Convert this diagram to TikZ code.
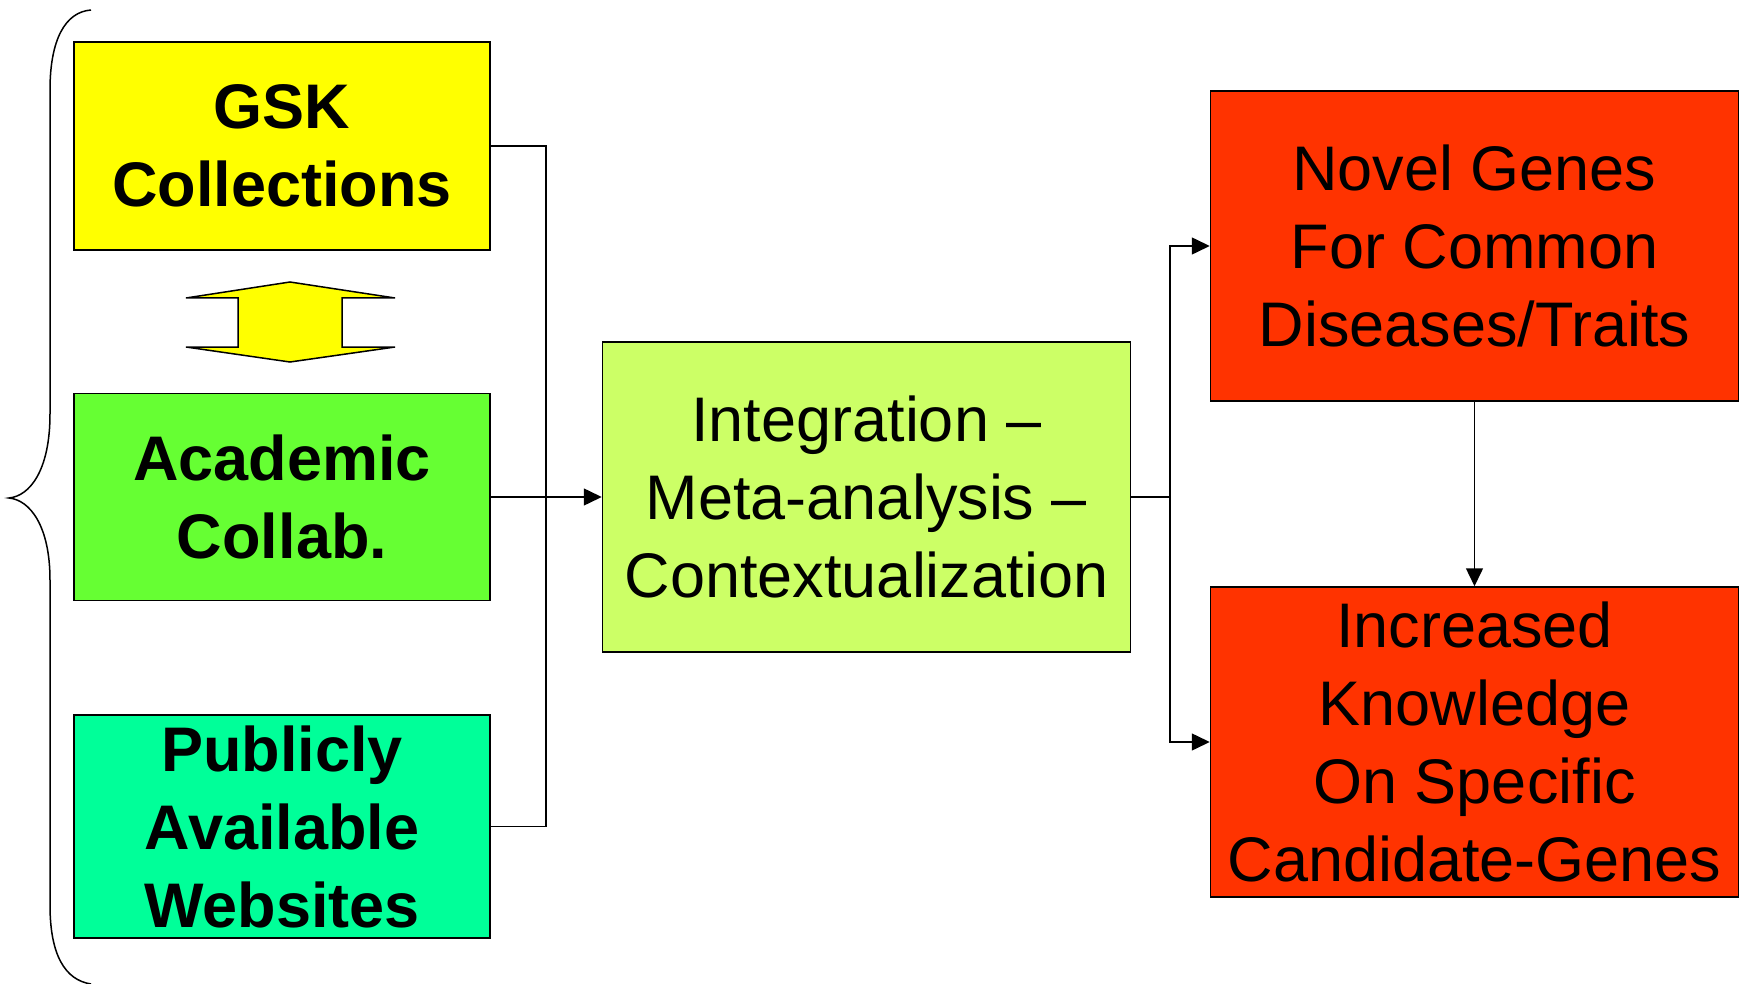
\documentclass[tikz,border=0pt]{standalone}
\usepackage{fontspec}
\setmainfont{Liberation Sans}
\usetikzlibrary{arrows.meta}
\definecolor{gskyellow}{HTML}{FFFF00}
\definecolor{acadgreen}{HTML}{66FF33}
\definecolor{pubgreen}{HTML}{00FF99}
\definecolor{integlime}{HTML}{CCFF66}
\definecolor{outred}{HTML}{FF3300}
\tikzstyle{srcbox}=[draw,line width=1.5pt,align=center,inner sep=0pt,minimum width=416pt,font=\fontsize{63}{78}\selectfont\bfseries]
\tikzstyle{outbox}=[draw,line width=1.5pt,align=center,inner sep=0pt,minimum width=528pt,minimum height=310pt,font=\fontsize{63}{78}\selectfont]
\tikzstyle{conn}=[line width=1.5pt]
\tikzstyle{connarr}=[line width=1.5pt,-{Triangle[length=18pt,width=17pt]}]

\begin{document}
\begin{tikzpicture}[x=1pt,y=-1pt]
    \useasboundingbox (0,0) rectangle (1743,984);
    \node[srcbox,fill=gskyellow,minimum height=208pt] (gsk) at (282,146) {GSK\\Collections};
    \node[srcbox,fill=acadgreen,minimum height=207pt] (acad) at (282,497) {Academic\\Collab.};
    \node[srcbox,fill=pubgreen,minimum height=223pt] (pub) at (282,826.5) {Publicly\\Available\\Websites};
    \node[outbox,fill=integlime] (integ) at (866.5,497) {Integration --\\Meta-analysis --\\Contextualization};
    \node[outbox,fill=outred] (novel) at (1474.5,246) {Novel Genes\\For Common\\Diseases/Traits};
    \node[outbox,fill=outred] (incr) at (1474.5,742) {Increased\\Knowledge\\On Specific\\Candidate-Genes};
    \coordinate (jl) at (546,497);
    \coordinate (jr) at (1170,497);

    % double arrow between the sources
    \draw[line width=1.5pt,fill=gskyellow] (186,298) -- (290,282) -- (395,298) -- (342,298) -- (342,347) -- (395,347)
        -- (290,362) -- (186,347) -- (238,347) -- (238,298) -- cycle;

    % brace round the sources
    \draw[line width=1.5pt] (91,10) .. controls (65,12) and (50,40) .. (50,90) -- (50,414)
        .. controls (50,470) and (30,496) .. (9,498) .. controls (30,500) and (50,526) .. (50,580)
        -- (50,905) .. controls (50,955) and (65,980) .. (91,984);

    \foreach \from in {gsk,pub}
    \draw[conn] (\from.east) -| (jl);
    \draw[connarr] (acad.east) -- (integ.west);
    \draw[conn] (integ.east) -- (jr);
    \foreach \to in {novel,incr}
    \draw[connarr] (jr) |- (\to.west);
    \draw[connarr] (novel) -- (incr);
\end{tikzpicture}
\end{document}
